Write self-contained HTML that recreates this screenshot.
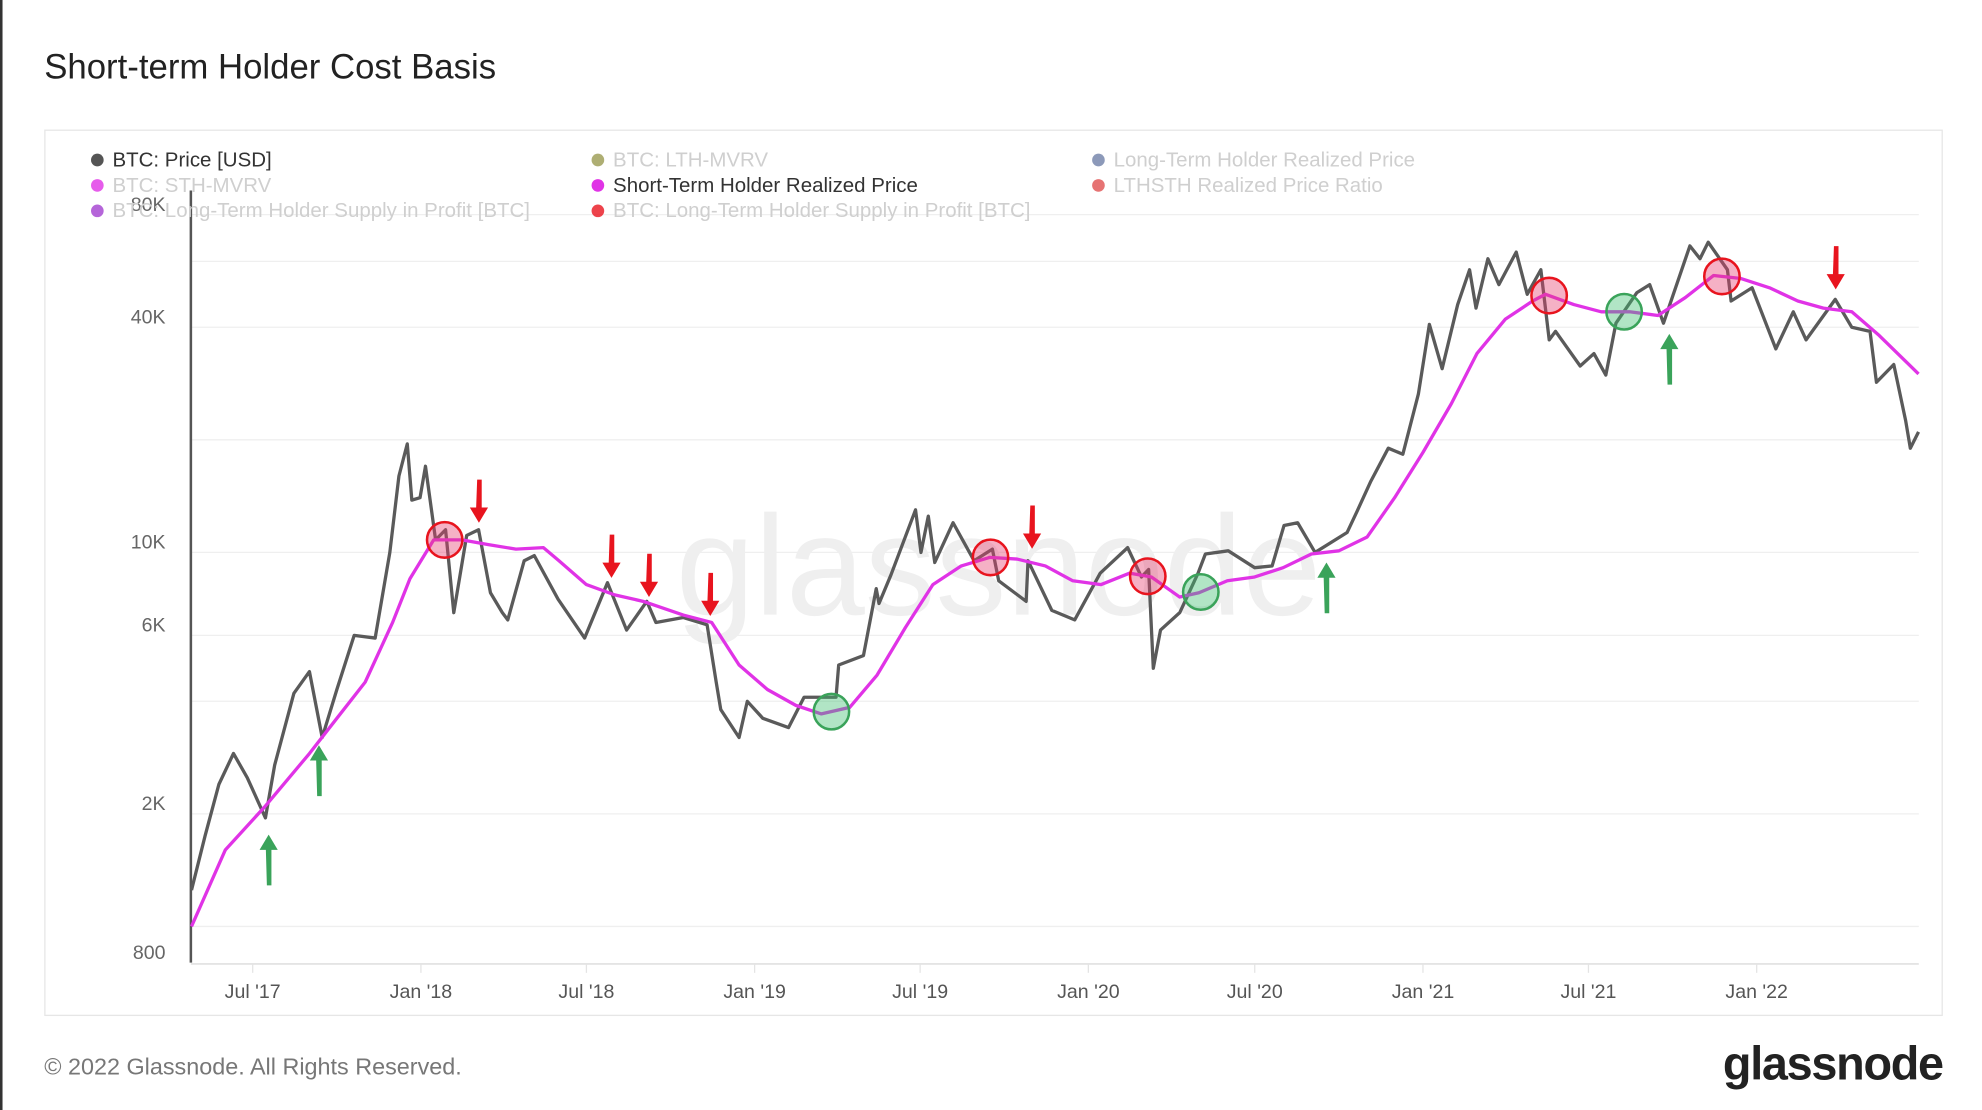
<!DOCTYPE html>
<html><head><meta charset="utf-8">
<style>
html,body{margin:0;padding:0;background:#fff;width:1982px;height:1110px;overflow:hidden}
svg{display:block}
text{font-family:"Liberation Sans",sans-serif}
</style></head>
<body>
<svg id="chart" width="1982" height="1110" viewBox="0 0 1568 874" preserveAspectRatio="none" xmlns="http://www.w3.org/2000/svg">
<rect x="0" y="0" width="2" height="874" fill="#333"/>
<text x="35" y="62" font-size="27.5" fill="#222">Short-term Holder Cost Basis</text>
<rect x="35.5" y="102.5" width="1501" height="697" fill="#fff" stroke="#e6e6e6"/>
<text x="790" y="484" font-size="112" fill="#efefef" text-anchor="middle">glassnode</text>
<g id="grid"></g>
<g id="xaxis"></g>
<g id="yaxis"></g>
<g id="series"></g>
<g id="annotations"></g>
<g id="legend"></g>
<text x="35" y="846" font-size="18.5" fill="#777">© 2022 Glassnode. All Rights Reserved.</text>
<text x="1537" y="850" font-size="37" font-weight="bold" fill="#222" text-anchor="end" letter-spacing="-1">glassnode</text>
</svg>
<script>
const priceDates=["2017-04-25","2017-05-10","2017-05-25","2017-06-10","2017-06-25","2017-07-15","2017-07-25","2017-08-15","2017-09-01","2017-09-15","2017-10-01","2017-10-20","2017-11-12","2017-11-28","2017-12-08","2017-12-17","2017-12-22","2017-12-31","2018-01-06","2018-01-17","2018-01-28","2018-02-06","2018-02-20","2018-03-05","2018-03-18","2018-03-31","2018-04-06","2018-04-24","2018-05-05","2018-05-31","2018-06-29","2018-07-24","2018-08-14","2018-09-05","2018-09-15","2018-10-15","2018-11-10","2018-11-20","2018-11-25","2018-12-15","2018-12-24","2019-01-10","2019-02-07","2019-02-24","2019-03-31","2019-04-03","2019-04-30","2019-05-14","2019-05-17","2019-05-30","2019-06-26","2019-07-02","2019-07-10","2019-07-17","2019-08-06","2019-08-29","2019-09-18","2019-09-25","2019-10-25","2019-10-27","2019-11-22","2019-12-17","2020-01-14","2020-02-13","2020-02-28","2020-03-07","2020-03-12","2020-03-20","2020-04-10","2020-04-30","2020-05-08","2020-06-02","2020-07-01","2020-07-20","2020-08-02","2020-08-17","2020-09-05","2020-10-10","2020-10-21","2020-11-05","2020-11-24","2020-12-10","2020-12-27","2021-01-08","2021-01-22","2021-02-08","2021-02-21","2021-02-28","2021-03-13","2021-03-25","2021-04-13","2021-04-25","2021-05-10","2021-05-19","2021-05-26","2021-06-22","2021-07-07","2021-07-20","2021-07-31","2021-08-23","2021-09-06","2021-09-21","2021-10-20","2021-10-31","2021-11-09","2021-11-30","2021-12-04","2021-12-27","2022-01-22","2022-02-10","2022-02-24","2022-03-28","2022-04-15","2022-05-05","2022-05-12","2022-05-31","2022-06-13","2022-06-18","2022-06-27"];
const priceValues=[1250,1750,2400,2900,2500,1950,2700,4200,4800,3200,4300,6000,5900,10000,16000,19500,13800,14000,17000,10800,11500,6900,11100,11500,7800,6900,6600,9500,9800,7500,5900,8300,6200,7400,6500,6700,6400,4500,3800,3200,4000,3600,3400,4100,4100,5000,5300,8000,7300,8700,13000,10000,12500,9400,12000,9500,10200,8400,7400,9500,7000,6600,8800,10300,8600,9000,4900,6200,6900,8800,9900,10100,9100,9200,11800,12000,10000,11300,12900,15500,19000,18300,26500,40700,31000,46000,57000,45000,61000,52000,63500,49000,57000,37000,39000,31500,34000,29800,41000,49500,52000,41000,66000,61000,67500,57000,47000,51000,35000,44000,37000,47500,40000,39000,28500,31800,22500,19000,21000];
const sthDates=["2017-04-25","2017-06-01","2017-07-15","2017-09-01","2017-10-01","2017-11-01","2017-12-01","2017-12-20","2018-01-15","2018-02-15","2018-03-15","2018-04-15","2018-05-15","2018-06-01","2018-07-01","2018-08-01","2018-09-01","2018-10-15","2018-11-15","2018-12-15","2019-01-15","2019-02-15","2019-03-15","2019-04-15","2019-05-15","2019-06-15","2019-07-15","2019-08-15","2019-09-15","2019-10-15","2019-11-15","2019-12-15","2020-01-15","2020-02-15","2020-03-10","2020-04-10","2020-05-01","2020-06-01","2020-07-01","2020-08-01","2020-09-01","2020-10-01","2020-11-01","2020-12-01","2021-01-01","2021-02-01","2021-03-01","2021-04-01","2021-05-01","2021-05-15","2021-06-15","2021-07-15","2021-08-15","2021-09-15","2021-10-15","2021-11-15","2021-12-15","2022-01-15","2022-02-15","2022-03-15","2022-04-15","2022-05-15","2022-06-27"];
const sthValues=[1000,1600,2100,2900,3600,4500,6500,8500,10800,10800,10500,10200,10300,9500,8200,7700,7400,6800,6500,5000,4300,3900,3700,3850,4700,6300,8200,9200,9700,9600,9200,8400,8200,8800,8600,7600,7800,8400,8600,9100,9900,10100,11000,14000,18500,25000,34000,42000,47000,49000,46000,44000,44000,43000,48000,55000,54000,51000,47000,45000,44000,38000,30000];
const redCircleDates=["2018-01-27","2019-09-16","2020-03-06","2021-05-19","2021-11-24"];
const greenCircleDates=["2019-03-26","2020-05-03","2021-08-09"];
const downArrowDates=["2018-03-06","2018-07-29","2018-09-08","2018-11-14","2019-11-01","2022-03-29"];
const downArrowValues=[12000,8550,7600,6760,10230,50500];
const upArrowDates=["2017-07-19","2017-09-12","2020-09-18","2021-09-28"];
const upArrowValues=[1760,3050,9400,38400];
const yTickValues=[80000,40000,10000,6000,2000,800];
const yTickLabels=["80K","40K","10K","6K","2K","800"];
const gridValues=[80000,60000,40000,20000,10000,6000,4000,2000,1000];
const xTickDates=["2017-07-01","2018-01-01","2018-07-01","2019-01-01","2019-07-01","2020-01-01","2020-07-01","2021-01-01","2021-07-01","2022-01-01"];
const xTickLabels=["Jul '17","Jan '18","Jul '18","Jan '19","Jul '19","Jan '20","Jul '20","Jan '21","Jul '21","Jan '22"];

const NS="http://www.w3.org/2000/svg";
const X0=151,X1=1518;
const ref=Date.UTC(2018,0,1);
function xs(d){const t=Date.parse(d+"T00:00:00Z");return 333+(t-ref)/86400000*0.7233;}
function ys(v){return 169+(Math.log10(80000)-Math.log10(v))*294.5;}
function mk(tag,attrs,parent){const e=document.createElementNS(NS,tag);for(const k in attrs)e.setAttribute(k,attrs[k]);parent.appendChild(e);return e;}
function interp(d){const t=xs(d);for(let i=0;i<sthDates.length-1;i++){const a=xs(sthDates[i]),b=xs(sthDates[i+1]);if(t>=a&&t<=b){const f=(t-a)/(b-a);return Math.pow(10,Math.log10(sthValues[i])*(1-f)+Math.log10(sthValues[i+1])*f);}}return sthValues[sthValues.length-1];}

const grid=document.getElementById('grid');
gridValues.forEach(v=>{const l=mk('line',{x1:X0,x2:X1,y1:ys(v),y2:ys(v),stroke:'#efefef','stroke-width':1},grid);

});
const ya=document.getElementById('yaxis');
yTickValues.forEach((v,i)=>{const t=mk('text',{x:131,y:ys(v)-3,'font-size':15.5,fill:'#666','text-anchor':'end'},ya);t.textContent=yTickLabels[i];

});
const yl=mk('line',{x1:151,x2:151,y1:150,y2:758,stroke:'#555','stroke-width':2},ya);


const xa=document.getElementById('xaxis');
const bl=mk('line',{x1:X0,x2:X1,y1:759,y2:759,stroke:'#e4e4e4','stroke-width':1.5},xa);


xTickDates.forEach((d,i)=>{const x=xs(d);
const tk=mk('line',{x1:x,x2:x,y1:759,y2:766,stroke:'#e4e4e4'},xa);


const t=mk('text',{x:x,y:786,'font-size':15.5,fill:'#555','text-anchor':'middle'},xa);t.textContent=xTickLabels[i];

});

const ser=document.getElementById('series');
const pp=mk('path',{d:priceDates.map((d,i)=>(i?'L':'M')+xs(d).toFixed(1)+','+ys(priceValues[i]).toFixed(1)).join(''),fill:'none',stroke:'#5a5a5a','stroke-width':2.6,'stroke-linejoin':'round'},ser);


const sp=mk('path',{d:sthDates.map((d,i)=>(i?'L':'M')+xs(d).toFixed(1)+','+ys(sthValues[i]).toFixed(1)).join(''),fill:'none',stroke:'#e033e6','stroke-width':2.6,'stroke-linejoin':'round'},ser);



const an=document.getElementById('annotations');
redCircleDates.forEach(d=>{const c=mk('circle',{cx:xs(d),cy:ys(interp(d)),r:14,fill:'rgba(230,60,110,0.4)',stroke:'#e8141e','stroke-width':2},an);

});
greenCircleDates.forEach(d=>{const c=mk('circle',{cx:xs(d),cy:ys(interp(d)),r:14,fill:'rgba(60,190,110,0.4)',stroke:'#3aa35a','stroke-width':2},an);

});
downArrowDates.forEach((d,i)=>{const x=xs(d),y=ys(downArrowValues[i]);
const a=mk('path',{d:`M${x-1.8},${y-34}h3.6v22h5l-7.2,12l-7.2,-12h5z`,fill:'#e8141e'},an);

});
upArrowDates.forEach((d,i)=>{const x=xs(d),y=ys(upArrowValues[i]);
const a=mk('path',{d:`M${x-1.8},${y+40}h3.6v-28h5l-7.2,-12l-7.2,12h5z`,fill:'#3aa35a'},an);

});

const legendLabels=["BTC: Price [USD]","BTC: STH-MVRV","BTC: Long-Term Holder Supply in Profit [BTC]","BTC: LTH-MVRV","Short-Term Holder Realized Price","BTC: Long-Term Holder Supply in Profit [BTC]","Long-Term Holder Realized Price","LTHSTH Realized Price Ratio"];
const legendColors=["#555","#e033e6","#a33fd0","#9a9a50","#e033e6","#e8141e","#6f7fa8","#e05050"];
const legendActive=[true,false,false,false,true,false,false,false];
const lg=document.getElementById('legend');
legendLabels.forEach((s,i)=>{const col=Math.floor(i/3),row=i%3;const x=77+col*396,y=126+row*20;
const g=mk('g',{},lg);


mk('circle',{cx:x,cy:y,r:5,fill:legendColors[i],opacity:legendActive[i]?1:0.8},g);
const t=mk('text',{x:x+12,y:y+5,'font-size':16.2,fill:legendActive[i]?'#333':'#cfcfcf'},g);t.textContent=s;});
</script>
</body></html>
